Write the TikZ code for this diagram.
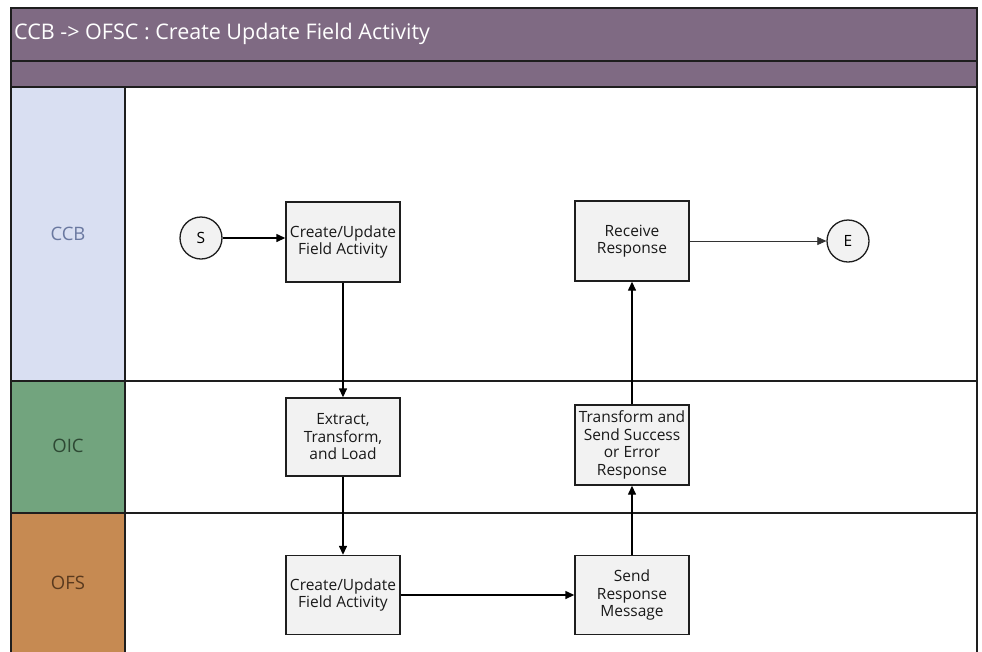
\documentclass[tikz,border=0pt]{standalone}
\usepackage{fontspec}
\setmainfont{Open Sans}
\usetikzlibrary{arrows.meta}
\definecolor{titlebar}{HTML}{7F6A83}
\definecolor{ccbfill}{HTML}{D9DFF2}
\definecolor{ccbtext}{HTML}{6A78A0}
\definecolor{oicfill}{HTML}{72A47E}
\definecolor{oictext}{HTML}{2E4934}
\definecolor{ofsfill}{HTML}{C68A52}
\definecolor{ofstext}{HTML}{5A3A1E}
\definecolor{boxfill}{HTML}{F2F2F2}
\definecolor{edge}{HTML}{1E1E1E}
\tikzset{
  procbox/.style={draw=edge, line width=1.4pt, fill=boxfill, minimum width=114pt, minimum height=80pt, align=center, inner sep=1pt, font=\fontsize{15.5}{17.5}\selectfont, text=black!90},
  evt/.style={circle, draw=edge, line width=1.3pt, fill=boxfill, minimum size=42pt, inner sep=0pt, font=\fontsize{15.5}{17.5}\selectfont},
  flow/.style={line width=1.4pt, draw=black, -{Triangle[length=9pt,width=8pt]}},
  thinflow/.style={line width=0.7pt, draw=black!80, -{Triangle[length=9pt,width=8pt]}},
  lanelab/.style={font=\fontsize{18.5}{21}\selectfont},
  divider/.style={draw=edge, line width=1.4pt}
}
\begin{document}
\begin{tikzpicture}[x=1pt,y=-1pt]
\useasboundingbox (0,0) rectangle (982,651);
\fill[white] (0,0) rectangle (982,651);
% title bars
\fill[titlebar] (11,8) rectangle (977,87);
\draw[divider] (11,61) -- (977,61);
\node[anchor=west, text=white, font=\fontsize{21.5}{24}\selectfont, inner sep=2pt] (title) at (12,34) {CCB -> OFSC : Create Update Field Activity};
% lane label cells
\fill[ccbfill] (11,87) rectangle (125,381);
\fill[oicfill] (11,381) rectangle (125,513);
\fill[ofsfill] (11,513) rectangle (125,652);
\node[lanelab, text=ccbtext] (ccb) at (68,234) {CCB};
\node[lanelab, text=oictext] (oic) at (68,446) {OIC};
\node[lanelab, text=ofstext] (ofs) at (68,583) {OFS};
% lane lines
\draw[divider] (11,87) -- (977,87);
\draw[divider] (11,381) -- (977,381);
\draw[divider] (11,513) -- (977,513);
\draw[divider] (125,87) -- (125,652);
\draw[divider] (11,652) -- (11,8) -- (977,8) -- (977,652);
% nodes
\node[evt] (s) at (201,238) {S};
\node[procbox] (c1) at (343,242) {Create/Update\\Field Activity};
\node[procbox] (rr) at (632,241) {Receive\\Response};
\node[evt] (e) at (848,241) {E};
\node[procbox, minimum height=78pt] (etl) at (343,437) {Extract,\\Transform,\\and Load};
\node[procbox] (ts) at (632,445) {Transform and\\Send Success\\or Error\\Response};
\node[procbox, minimum height=79pt] (c2) at (343,595) {Create/Update\\Field Activity};
\node[procbox, minimum height=79pt] (sr) at (632,595) {Send\\Response\\Message};
% connectors
\draw[flow] (s) -- (s -| c1.west);
\draw[flow] (c1) -- (etl);
\draw[flow] (etl) -- (c2);
\draw[flow] (c2) -- (sr);
\draw[flow] (sr) -- (ts);
\draw[flow] (ts) -- (rr);
\draw[thinflow] (rr) -- (e);
\end{tikzpicture}
\end{document}
